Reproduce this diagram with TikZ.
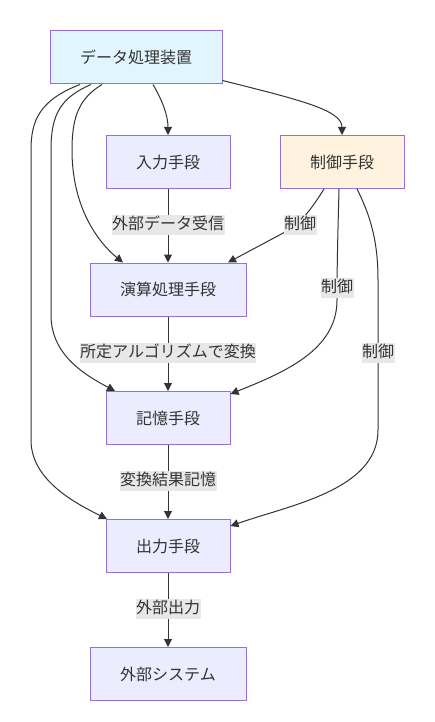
\documentclass[tikz,border=0pt]{standalone}
\usepackage{fontspec}
\setmainfont{Noto Sans CJK JP}
\usetikzlibrary{arrows.meta,calc}
\definecolor{nodeborder}{HTML}{9370DB}
\definecolor{nodefill}{HTML}{ECECFF}
\definecolor{topfill}{HTML}{E1F5FE}
\definecolor{ctrlfill}{HTML}{FFF3E0}
\definecolor{txt}{HTML}{333333}
\definecolor{edge}{HTML}{333333}
\definecolor{lblbg}{HTML}{E8E8E8}
\begin{document}
\begin{tikzpicture}[x=1pt,y=-1pt,
  box/.style={draw=nodeborder,line width=1pt,fill=nodefill,inner sep=0pt,
    minimum height=53pt,font=\fontsize{16pt}{19pt}\selectfont,text=txt},
  narrow/.style={box,minimum width=124pt},
  wide/.style={box,minimum width=156pt},
  lbl/.style={fill=lblbg,inner xsep=0.5pt,inner ysep=2pt,text height=12pt,text depth=4pt,
    font=\fontsize{16pt}{19pt}\selectfont,text=txt},
  conn/.style={draw=edge,line width=1pt,-{Triangle[length=8pt,width=8pt]}}
]
\useasboundingbox (0,0) rectangle (435,722);
\fill[white] (0,0) rectangle (435,722);

\node[box,minimum width=172pt,fill=topfill] (top) at (136,57.5) {データ処理装置};
\node[narrow] (in) at (168,162) {入力手段};
\node[narrow,fill=ctrlfill] (ctrl) at (342,162) {制御手段};
\node[wide] (calc) at (168,289.5) {演算処理手段};
\node[narrow] (mem) at (168,418) {記憶手段};
\node[narrow] (out) at (168,546) {出力手段};
\node[wide] (ext) at (168,674) {外部システム};

% edges from top
\draw[conn] ($(top.south)+(17,0)$) .. controls (162,100) and (168,115) .. (in.north);
\draw[conn] ($(top.south east)+(0,-4)$) .. controls (300,100) and (342,110) .. (ctrl.north);
\draw[conn] ($(top.south)+(-34,0)$) .. controls (80,98) and (72,115) .. (72,150)
   .. controls (72,215) and (105,248) .. ($(calc.north)+(-45,0)$);
\draw[conn] ($(top.south)+(-45,0)$) .. controls (60,98) and (51,115) .. (51,150)
   -- (51,315) .. controls (51,355) and (85,375) .. ($(mem.north)+(-53,0)$);
\draw[conn] ($(top.south)+(-56,0)$) .. controls (40,100) and (31,120) .. (31,150)
   -- (31,440) .. controls (31,480) and (75,503) .. ($(out.north)+(-61,0)$);

% straight chain
\draw[conn] (in) -- (calc);
\draw[conn] (calc) -- (mem);
\draw[conn] (mem) -- (out);
\draw[conn] (out) -- (ext);

% edges from ctrl
\draw[conn] ($(ctrl.south)+(-18,0)$) .. controls (312,208) and (302,222) .. (287,231) -- ($(calc.north)+(60,0)$);
\draw[conn] ($(ctrl.south)+(-3,0)$) .. controls (338,230) and (337,260) .. (337,300)
   .. controls (337,350) and (285,372) .. ($(mem.north east)+(0,3)$);
\draw[conn] ($(ctrl.south)+(15,0)$) .. controls (370,215) and (378,240) .. (378,280)
   -- (378,430) .. controls (378,490) and (290,505) .. ($(out.north east)+(0,7)$);

% labels
\node[lbl] (l1) at (168,225) {外部データ受信};
\node[lbl] (l2) at (300,225) {制御};
\node[lbl] (l3) at (337,288) {制御};
\node[lbl] (l4) at (168,353) {所定アルゴリズムで変換};
\node[lbl] (l5) at (378,353) {制御};
\node[lbl] (l6) at (168,481) {変換結果記憶};
\node[lbl] (l7) at (168,609) {外部出力};
\end{tikzpicture}
\end{document}
